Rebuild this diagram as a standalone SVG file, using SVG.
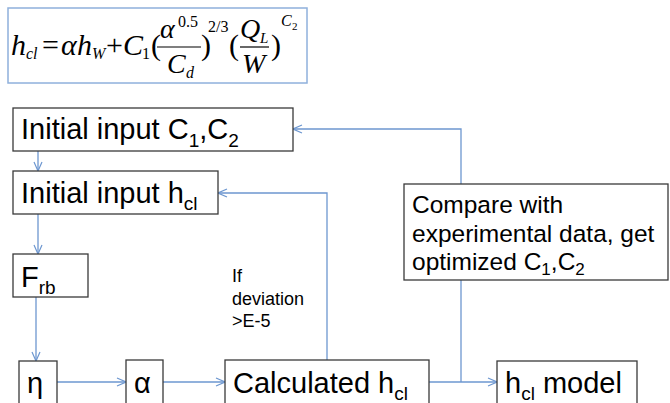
<svg xmlns="http://www.w3.org/2000/svg" width="670" height="403" viewBox="0 0 670 403">
<style>
.box{fill:#fff;stroke:#3a3a3a;stroke-width:1.3}
.t{font-family:"Liberation Sans",Arial,sans-serif;font-size:29px;fill:#000}
.s{font-size:19px}
.c{fill:none;stroke:#6d97d0;stroke-width:1.3}
.m{font-family:"Liberation Serif","Times New Roman",serif;font-style:italic;fill:#000}
.n{font-style:normal}
.lbl{font-family:"Liberation Sans",Arial,sans-serif;font-size:18px;fill:#000}
.cmp{font-family:"Liberation Sans",Arial,sans-serif;font-size:24.5px;fill:#000}
</style>
<defs>
<marker id="ah" viewBox="0 0 10 10" refX="10" refY="5" markerWidth="10" markerHeight="10" markerUnits="userSpaceOnUse" orient="auto">
<path d="M1,1 L10,5 L1,9" fill="none" stroke="#6d97d0" stroke-width="1.2"/>
</marker>
</defs>

<g id="formula">
<rect x="8" y="8" width="299" height="75" fill="#fff" stroke="#8fb0dc" stroke-width="1.5"/>
<text class="m" font-size="30" x="11" y="55">h</text>
<text class="m" font-size="16" x="26" y="59">cl</text>
<text class="m n" font-size="30" x="42" y="55">=</text>
<text class="m" font-size="30" x="61" y="55">α</text>
<text class="m" font-size="30" x="77" y="55">h</text>
<text class="m" font-size="16" x="92" y="59">W</text>
<text class="m n" font-size="30" x="106" y="55">+</text>
<text class="m" font-size="30" x="123" y="55">C</text>
<text class="m n" font-size="16" x="142" y="59">1</text>
<text class="m n" font-size="30" x="151" y="55">(</text>
<text class="m" font-size="28" x="160" y="38">α</text>
<text class="m n" font-size="16" x="178" y="27">0.5</text>
<line x1="157" y1="47" x2="201" y2="47" stroke="#000" stroke-width="1.2"/>
<text class="m" font-size="28" x="167" y="73">C</text>
<text class="m" font-size="16" x="186" y="78">d</text>
<text class="m n" font-size="30" x="201" y="55">)</text>
<text class="m n" font-size="16" x="208" y="32">2/3</text>
<text class="m n" font-size="30" x="229" y="55">(</text>
<text class="m" font-size="28" x="240" y="38">Q</text>
<text class="m" font-size="15" x="260" y="43">L</text>
<line x1="240" y1="47" x2="269" y2="47" stroke="#000" stroke-width="1.2"/>
<text class="m" font-size="28" x="242" y="73">W</text>
<text class="m n" font-size="30" x="271" y="55">)</text>
<text class="m" font-size="16" x="281" y="26">C</text>
<text class="m n" font-size="11" x="292" y="30">2</text>
</g>

<g id="connectors">
<path class="c" d="M38,151 V171" marker-end="url(#ah)"/>
<path class="c" d="M38,214 V254" marker-end="url(#ah)"/>
<path class="c" d="M36,297 V361" marker-end="url(#ah)"/>
<path class="c" d="M57,382 H126" marker-end="url(#ah)"/>
<path class="c" d="M163,382 H225" marker-end="url(#ah)"/>
<path class="c" d="M429,382 H497" marker-end="url(#ah)"/>
<path class="c" d="M327,360 V193 H218" marker-end="url(#ah)"/>
<path class="c" d="M461,382 V280"/>
<path class="c" d="M461,184 V129 H293" marker-end="url(#ah)"/>
</g>

<g id="node-c1c2">
<rect class="box" x="13" y="108" width="280" height="43"/>
<text class="t" x="21" y="139">Initial input C<tspan class="s" dy="8">1</tspan><tspan dy="-8">,C</tspan><tspan class="s" dy="8">2</tspan></text>
</g>
<g id="node-hcl-init">
<rect class="box" x="13" y="171" width="205" height="43"/>
<text class="t" x="21" y="203">Initial input h<tspan class="s" dy="7">cl</tspan></text>
</g>
<g id="node-frb">
<rect class="box" x="13" y="254" width="75" height="43"/>
<text class="t" x="21" y="287">F<tspan class="s" dy="7">rb</tspan></text>
</g>
<g id="node-eta">
<rect class="box" x="19" y="361" width="38" height="60"/>
<text class="t" x="27" y="393">η</text>
</g>
<g id="node-alpha">
<rect class="box" x="126" y="360" width="37" height="60"/>
<text class="t" x="134" y="393">α</text>
</g>
<g id="node-calc">
<rect class="box" x="225" y="360" width="204" height="60"/>
<text class="t" x="233" y="393">Calculated h<tspan class="s" dy="7">cl</tspan></text>
</g>
<g id="node-model">
<rect class="box" x="497" y="361" width="140" height="60"/>
<text class="t" x="505" y="393">h<tspan class="s" dy="7">cl</tspan><tspan dy="-7"> model</tspan></text>
</g>
<g id="node-compare">
<rect class="box" x="404" y="184" width="264" height="96"/>
<text class="cmp" x="412" y="213">Compare with</text>
<text class="cmp" x="412" y="242">experimental data, get</text>
<text class="cmp" x="412" y="270">optimized C<tspan font-size="17" dy="5">1</tspan><tspan dy="-5">,C</tspan><tspan font-size="17" dy="5">2</tspan></text>
</g>
<g id="label-dev">
<text class="lbl" x="232" y="282">If</text>
<text class="lbl" x="232" y="305">deviation</text>
<text class="lbl" x="232" y="327">&gt;E-5</text>
</g>
</svg>
